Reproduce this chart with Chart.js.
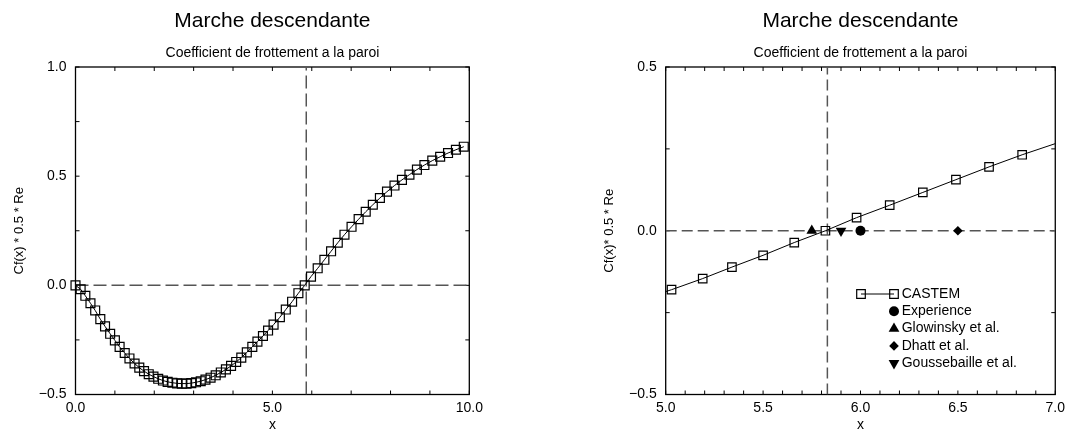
<!DOCTYPE html>
<html>
<head>
<meta charset="utf-8">
<script src="https://cdn.jsdelivr.net/npm/chart.js@4.4.1/dist/chart.umd.min.js"></script>
<style>
  body { margin: 0; background: #fff; }
  #wrap { position: relative; width: 1070px; height: 434px; }
  canvas { position: absolute; top: 0; }
</style>
</head>
<body>
<div id="wrap">
  <canvas id="left" width="535" height="434" style="left:0"></canvas>
  <canvas id="right" width="535" height="434" style="left:535px"></canvas>
</div>
<script>
// CASTEM wall friction
const castemX = [0.00, 0.13, 0.25, 0.38, 0.50, 0.63, 0.75, 0.88, 1.00, 1.12, 1.25, 1.37, 1.50, 1.62, 1.74, 1.86,
  1.98, 2.10, 2.22, 2.34, 2.46, 2.58, 2.70, 2.82, 2.94, 3.06, 3.18, 3.30, 3.43, 3.56, 3.69, 3.82, 3.95, 4.08,
  4.21, 4.35, 4.49, 4.62, 4.76, 4.89, 5.03, 5.19, 5.34, 5.50, 5.66, 5.82, 5.98, 6.15, 6.32, 6.49, 6.66, 6.83,
  7.01, 7.19, 7.37, 7.55, 7.73, 7.91, 8.10, 8.29, 8.48, 8.67, 8.86, 9.06, 9.26, 9.46, 9.66, 9.86];
const castemY = [0.000, -0.018, -0.048, -0.082, -0.115, -0.155, -0.188, -0.222, -0.252, -0.282, -0.310, -0.335,
  -0.358, -0.377, -0.393, -0.407, -0.418, -0.428, -0.436, -0.442, -0.446, -0.449, -0.450, -0.450, -0.448, -0.444,
  -0.439, -0.432, -0.423, -0.412, -0.399, -0.385, -0.369, -0.351, -0.331, -0.307, -0.282, -0.258, -0.232, -0.207,
  -0.180, -0.146, -0.111, -0.075, -0.036, 0.000, 0.040, 0.078, 0.117, 0.156, 0.195, 0.232,
  0.268, 0.303, 0.337, 0.369, 0.400, 0.429, 0.457, 0.483, 0.507, 0.530, 0.551, 0.571, 0.589, 0.606, 0.621, 0.635];

// reattachment points from the literature
const experienceX = [6.0];
const glowinskyX = [5.75];
const dhattX = [6.5];
const goussebailleX = [5.9];
const refY = [0.0];

// dashed reference lines
const reattachLeft = 5.86;
const reattachRight = 5.83;

// axes
const leftXRange = [0, 10];
const leftYRange = [-0.5, 1.0];
const leftXLabels = [0, 5, 10];
const leftYLabels = [-0.5, 0, 0.5, 1.0];
const leftXMinor = [0, 1, 2, 3, 4, 5, 6, 7, 8, 9, 10];
const leftYMinor = [-0.5, -0.25, 0, 0.25, 0.5, 0.75, 1.0];

const rightXRange = [5, 7];
const rightYRange = [-0.5, 0.5];
const rightXLabels = [5, 5.5, 6, 6.5, 7];
const rightYLabels = [-0.5, 0, 0.5];
const rightXMinor = [5.0, 5.1, 5.2, 5.3, 5.4, 5.5, 5.6, 5.7, 5.8, 5.9, 6.0, 6.1, 6.2, 6.3, 6.4, 6.5, 6.6, 6.7, 6.8, 6.9, 7.0];
const rightYMinor = [-0.5, -0.25, 0, 0.25, 0.5];

const legendLabels = ['CASTEM', 'Experience', 'Glowinsky et al.', 'Dhatt et al.', 'Goussebaille et al.'];

const FONT = "'Liberation Sans', Arial, Helvetica, sans-serif";

function fmt(v) {
  const s = Math.abs(v).toFixed(1);
  return v < 0 ? '\u2212' + s : s;
}

const pts = (xs, ys) => xs.map((x, i) => ({ x: x, y: ys[i] }));

// frame around the plot with inward ticks on all four sides
const frameTicks = {
  id: 'frameTicks',
  beforeDatasetsDraw(chart, args, opts) {
    const { ctx, chartArea: a, scales: { x, y } } = chart;
    ctx.save();
    ctx.strokeStyle = '#000';
    ctx.lineWidth = 1.3;
    ctx.strokeRect(a.left, a.top, a.right - a.left, a.bottom - a.top);
    ctx.lineWidth = 1;
    ctx.beginPath();
    opts.xMinor.forEach(v => {
      const px = x.getPixelForValue(v);
      ctx.moveTo(px, a.bottom); ctx.lineTo(px, a.bottom - 4);
      ctx.moveTo(px, a.top); ctx.lineTo(px, a.top + 4);
    });
    opts.yMinor.forEach(v => {
      const py = y.getPixelForValue(v);
      ctx.moveTo(a.left, py); ctx.lineTo(a.left + 4, py);
      ctx.moveTo(a.right, py); ctx.lineTo(a.right - 4, py);
    });
    ctx.stroke();
    ctx.restore();
  }
};

function drawSym(ctx, kind, x, y) {
  ctx.beginPath();
  if (kind === 'square') {
    ctx.rect(x - 4.3, y - 4.3, 8.6, 8.6);
    ctx.lineWidth = 1.2;
    ctx.stroke();
    return;
  }
  if (kind === 'circle') {
    ctx.arc(x, y, 5, 0, Math.PI * 2);
  } else if (kind === 'up') {
    ctx.moveTo(x, y - 6.2); ctx.lineTo(x + 5.4, y + 3.1); ctx.lineTo(x - 5.4, y + 3.1);
  } else if (kind === 'down') {
    ctx.moveTo(x, y + 6.2); ctx.lineTo(x + 5.4, y - 3.1); ctx.lineTo(x - 5.4, y - 3.1);
  } else if (kind === 'diamond') {
    ctx.moveTo(x, y - 4.8); ctx.lineTo(x + 4.8, y); ctx.lineTo(x, y + 4.8); ctx.lineTo(x - 4.8, y);
  }
  ctx.closePath();
  ctx.fill();
}

const legendBox = {
  id: 'legendBox',
  afterDraw(chart) {
    const { ctx, chartArea: a } = chart;
    const sx = a.left + 228.3, tx = a.left + 236, y0 = a.top + 227, dy = 17.3;
    const kinds = ['square', 'circle', 'up', 'diamond', 'down'];
    ctx.save();
    ctx.fillStyle = '#000';
    ctx.strokeStyle = '#000';
    // CASTEM sample: line with a square at both ends
    ctx.lineWidth = 1;
    ctx.beginPath();
    ctx.moveTo(sx - 33, y0); ctx.lineTo(sx, y0);
    ctx.stroke();
    drawSym(ctx, 'square', sx - 33, y0);
    ctx.font = '14px ' + FONT;
    ctx.textBaseline = 'middle';
    ctx.textAlign = 'left';
    legendLabels.forEach((t, i) => {
      const yy = y0 + i * dy;
      drawSym(ctx, kinds[i], sx, yy);
      ctx.fillText(t, tx, yy);
    });
    ctx.restore();
  }
};

function makeChart(id, o) {
  const inRange = c => c.raw && c.raw.x >= o.xRange[0] && c.raw.x <= o.xRange[1];
  const datasets = [
    {
      label: 'CASTEM',
      data: pts(castemX, castemY),
      showLine: true,
      borderColor: '#000',
      borderWidth: 1,
      pointStyle: 'rect',
      pointRadius: c => inRange(c) ? o.markerR : 0,
      pointBorderWidth: 1.2,
      pointBorderColor: '#000',
      pointBackgroundColor: 'rgba(0,0,0,0)',
      clip: o.clip
    }
  ];
  if (o.refs) {
    datasets.push(
      { label: 'Experience', data: pts(experienceX, refY), pointStyle: 'circle', pointRadius: 5,
        pointBackgroundColor: '#000', pointBorderWidth: 0 },
      { label: 'Glowinsky et al.', data: pts(glowinskyX, refY), pointStyle: 'triangle', pointRadius: 6.2,
        pointBackgroundColor: '#000', pointBorderWidth: 0 },
      { label: 'Dhatt et al.', data: pts(dhattX, refY), pointStyle: 'rectRot', pointRadius: 4.8,
        pointBackgroundColor: '#000', pointBorderWidth: 0 },
      { label: 'Goussebaille et al.', data: pts(goussebailleX, refY), pointStyle: 'triangle', pointRotation: 180,
        pointRadius: 6.2, pointBackgroundColor: '#000', pointBorderWidth: 0 }
    );
  }
  datasets.push(
    { label: 'zero', data: [{ x: o.xRange[0], y: 0 }, { x: o.xRange[1], y: 0 }], showLine: true,
      borderColor: '#555', borderWidth: 1.5, borderDash: o.dash, pointRadius: 0 },
    { label: 'reattach', data: [{ x: o.vline, y: o.yRange[0] }, { x: o.vline, y: o.yRange[1] }], showLine: true,
      borderColor: '#555', borderWidth: 1.5, borderDash: o.dash, pointRadius: 0 }
  );

  return new Chart(document.getElementById(id), {
    type: 'scatter',
    data: { datasets: datasets },
    plugins: o.refs ? [frameTicks, legendBox] : [frameTicks],
    options: {
      responsive: false,
      animation: false,
      events: [],
      layout: { padding: { left: o.padLeft, right: o.padRight, top: 0, bottom: 0 } },
      plugins: {
        legend: { display: false },
        tooltip: { enabled: false },
        title: {
          display: true, text: 'Marche descendante', color: '#000', fullSize: false,
          font: { family: FONT, size: 21, weight: 'normal' }, padding: { top: 9, bottom: 11 }
        },
        subtitle: {
          display: true, text: 'Coefficient de frottement a la paroi', color: '#000', fullSize: false,
          font: { family: FONT, size: 14, weight: 'normal' }, padding: { top: 0, bottom: 5 }
        },
        frameTicks: { xMinor: o.xMinor, yMinor: o.yMinor }
      },
      scales: {
        x: {
          type: 'linear', min: o.xRange[0], max: o.xRange[1],
          grid: { display: false, drawTicks: false },
          border: { display: false },
          afterBuildTicks: s => { s.ticks = o.xLabels.map(v => ({ value: v })); },
          afterFit: s => { s.height = 39.5; },
          ticks: { color: '#000', padding: 5, autoSkip: false, maxRotation: 0,
            font: { family: FONT, size: 14 }, callback: v => fmt(v) },
          title: { display: true, text: 'x', color: '#000', padding: { top: 0, bottom: 0 },
            font: { family: FONT, size: 14 } }
        },
        y: {
          type: 'linear', min: o.yRange[0], max: o.yRange[1],
          grid: { display: false, drawTicks: false },
          border: { display: false },
          afterBuildTicks: s => { s.ticks = o.yLabels.map(v => ({ value: v })); },
          afterFit: s => { s.width = 68.3; },
          ticks: { color: '#000', padding: 9, autoSkip: false,
            font: { family: FONT, size: 14 }, callback: v => fmt(v) },
          title: { display: true, text: o.yTitle, color: '#000', padding: { top: 4, bottom: 4 },
            font: { family: FONT, size: 13 } }
        }
      }
    }
  });
}

makeChart('left', {
  xRange: leftXRange, yRange: leftYRange, xLabels: leftXLabels, yLabels: leftYLabels,
  xMinor: leftXMinor, yMinor: leftYMinor, vline: reattachLeft, dash: [13, 5],
  yTitle: 'Cf(x) * 0.5 * Re', padLeft: 7.2, padRight: 65.7, markerR: 6.3, clip: false, refs: false
});

makeChart('right', {
  xRange: rightXRange, yRange: rightYRange, xLabels: rightXLabels, yLabels: rightYLabels,
  xMinor: rightXMinor, yMinor: rightYMinor, vline: reattachRight, dash: [11, 5],
  yTitle: 'Cf(x)* 0.5 * Re', padLeft: 62.4, padRight: 10.7, markerR: 6, clip: 0, refs: true
});
</script>
</body>
</html>
